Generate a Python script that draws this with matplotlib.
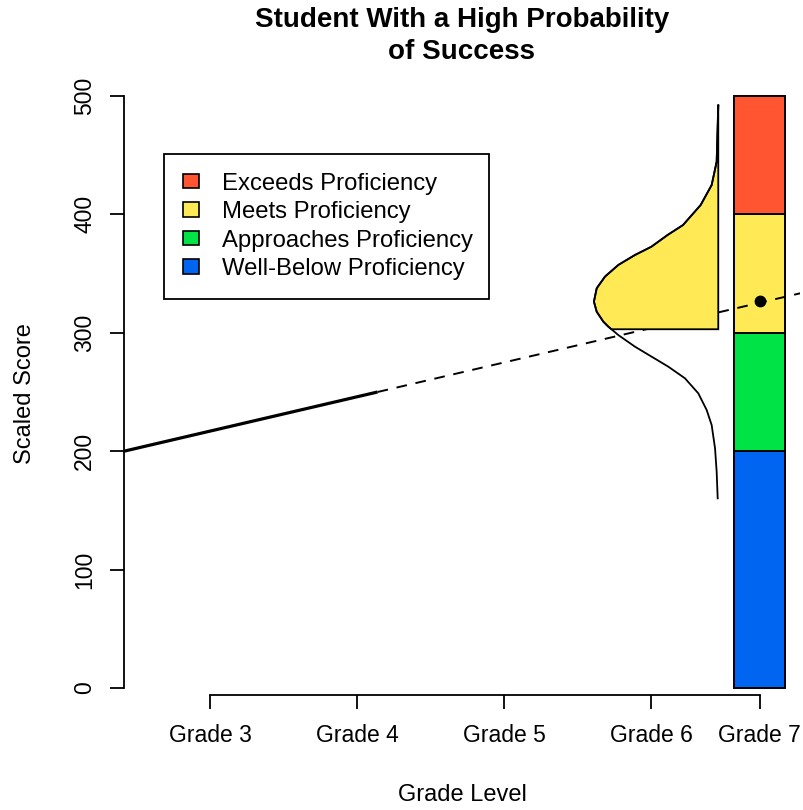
import numpy as np
import matplotlib
matplotlib.use("Agg")
from matplotlib import pyplot as plt
from matplotlib.patches import Patch

plt.rcParams['font.family'] = ['Liberation Sans', 'DejaVu Sans']

# axis labels / ticks
grade_labels = ["Grade 3", "Grade 4", "Grade 5", "Grade 6", "Grade 7"]
grade_pos = [3, 4, 5, 6, 6.74]
score_ticks = [0, 100, 200, 300, 400, 500]

# proficiency bands (bottom to top)
band_names = ["Well-Below Proficiency", "Approaches Proficiency",
              "Meets Proficiency", "Exceeds Proficiency"]
band_low = [0, 200, 300, 400]
band_high = [200, 300, 400, 500]
band_colors = ["#0066F2", "#00E346", "#FFEA55", "#FF5530"]

# observed trend (solid) and projection (dashed)
obs_x = [2.415, 4.14]
obs_y = [200, 250]
proj_x = [4.14, 7.02]
proj_y = [250, 333.5]

# predicted grade 7 score
pred_x = 6.74
pred_y = 327

# distribution of the prediction, drawn sideways at x = curve_base
curve_base = 6.458
curve_score = [492.4, 444.5, 424.8, 407.9, 391.0, 382.6, 372.7, 365.7, 357.3,
               347.4, 337.6, 326.3, 317.8, 309.4, 305.2, 298.1, 288.3, 279.8,
               271.4, 261.6, 248.9, 234.8, 222.1, 202.4, 182.7, 160.2]
curve_width = [0.0, 0.011, 0.045, 0.12, 0.24, 0.345, 0.455, 0.567, 0.680,
               0.771, 0.827, 0.846, 0.827, 0.782, 0.748, 0.680, 0.567, 0.453,
               0.340, 0.227, 0.136, 0.079, 0.045, 0.022, 0.011, 0.004]
meets_cut = 303

fig = plt.figure(figsize=(8.04, 8.10), dpi=100)
ax = fig.add_axes([124 / 804, 1 - 711.7 / 810, 676 / 804, 639.4 / 810])
ax.set_xlim(2.415, 7.014)
ax.set_ylim(-20, 520)

# stacked proficiency bar for grade 7
for lo, hi, col in zip(band_low, band_high, band_colors):
    ax.bar(pred_x, hi - lo, bottom=lo, width=0.345, color=col,
           edgecolor="black", linewidth=1.4, zorder=2)

# trend lines
ax.plot(obs_x, obs_y, color="black", linewidth=2.3, solid_capstyle="butt", zorder=3)
ax.plot(proj_x, proj_y, color="black", linewidth=1.4, dashes=(5.5, 4.5), zorder=3)

# distribution: filled above the cut, outline everywhere
cs = np.array(curve_score)
cw = np.array(curve_width)
above = cs >= meets_cut
cut_w = np.interp(meets_cut, cs[::-1], cw[::-1])
fill_y = np.concatenate([cs[above], [meets_cut, meets_cut, cs[above][0]]])
fill_x = np.concatenate([curve_base - cw[above], [curve_base - cut_w, curve_base, curve_base]])
ax.fill(fill_x, fill_y, facecolor="#FFEA55", edgecolor="black", linewidth=1.3, zorder=3)
ax.plot(curve_base - cw, cs, color="black", linewidth=1.3, zorder=4)

ax.plot(pred_x, pred_y, "o", color="black", markersize=7.5, zorder=5)

# R-style detached axes
for s in ["top", "right"]:
    ax.spines[s].set_visible(False)
ax.spines["left"].set_bounds(0, 500)
ax.spines["bottom"].set_position(("data", -5.9))
ax.spines["bottom"].set_bounds(grade_pos[0], grade_pos[-1])
for s in ["left", "bottom"]:
    ax.spines[s].set_linewidth(1.3)

ax.set_xticks(grade_pos)
ax.set_xticklabels(grade_labels)
ax.set_yticks(score_ticks)
ax.set_yticklabels([str(v) for v in score_ticks])
ax.tick_params(axis="both", length=10, width=1.3, labelsize=16.5, color="black")
ax.tick_params(axis="x", pad=11)
ax.tick_params(axis="y", pad=10, labelrotation=90)
for lab in ax.get_yticklabels():
    lab.set_va("center")

ax.set_xlabel("Grade Level", fontsize=17)
ax.xaxis.set_label_coords(0.5, -0.130)
ax.xaxis.label.set_va("center")
ax.set_ylabel("Scaled Score", fontsize=17)
ax.yaxis.set_label_coords(-0.1464, 0.498)
ax.yaxis.label.set_va("center")

fig.text((124 + 800) / 2 / 804, 1 - 36 / 810,
         "Student With a High Probability\nof Success",
         ha="center", va="center", fontsize=20, fontweight="bold", linespacing=1.27)

# legend, top band first; box stretched to the reference width
leg_w = (489 - 164) / 676
leg_h = (297 - 154) / 639.4
handles = [Patch(facecolor=c, edgecolor="black", linewidth=1.2)
           for c in band_colors[::-1]]
leg = ax.legend(handles, band_names[::-1], loc="upper left",
                bbox_to_anchor=(0.0592, 0.8722 - leg_h, leg_w, leg_h),
                mode="expand", borderaxespad=0,
                fancybox=False, framealpha=1, edgecolor="black",
                fontsize=17.2, handlelength=0.7, handleheight=0.55,
                handletextpad=0.96, borderpad=0.78, labelspacing=0.27)
leg.get_frame().set_linewidth(1.3)

fig.savefig("out.png", dpi=100)
